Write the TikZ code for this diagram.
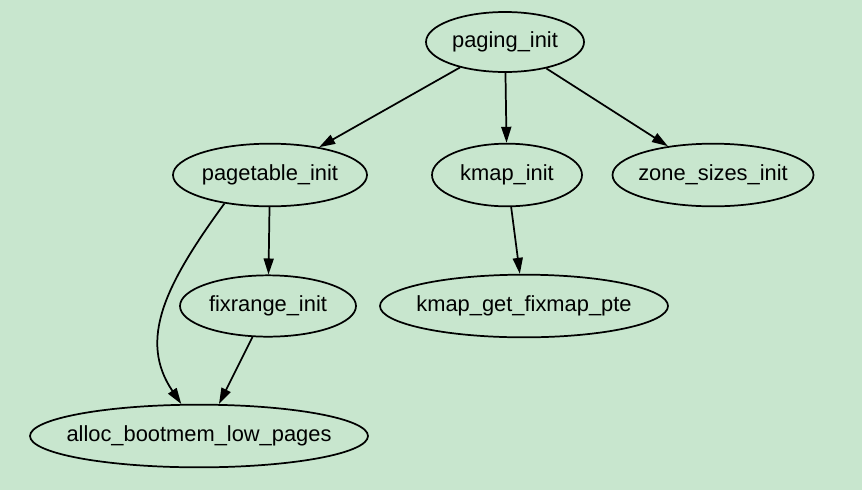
\documentclass[tikz,border=0pt]{standalone}
\usepackage{fontspec}
\setmainfont{Liberation Sans}
\usetikzlibrary{shapes.geometric,arrows.meta}
\definecolor{panelgreen}{RGB}{200,230,206}
\newcommand{\fname}[1]{\makebox[0pt]{#1}}

\begin{document}
\begin{tikzpicture}[x=0.75pt,y=0.75pt,yscale=-1,xscale=1,
  fn/.style={draw, ellipse, line width=1.3pt, inner sep=0pt, minimum height=47pt,
    font=\fontsize{16.4}{19}\selectfont},
  call/.style={-{Triangle[length=12pt,width=7.5pt]}, line width=1.3pt}]
%background, sets the size of the diagram
\path [fill=panelgreen] (0,0) rectangle (862,490);

%Shape: Ellipse [top level]
\node [fn, minimum width=118.5pt, minimum height=45pt] (paging) at (505,42) {\fname{paging\_init}};
%Shape: Ellipse [second level]
\node [fn, minimum width=145.5pt] (pagetable) at (270,175) {\fname{pagetable\_init}};
\node [fn, minimum width=112.5pt] (kmap) at (507,175) {\fname{kmap\_init}};
\node [fn, minimum width=150.75pt] (zone) at (713,175) {\fname{zone\_sizes\_init}};
%Shape: Ellipse [third level]
\node [fn, minimum width=132pt, minimum height=46pt] (fixrange) at (268,306) {\fname{fixrange\_init}};
\node [fn, minimum width=216pt] (kmapget) at (524,306) {\fname{kmap\_get\_fixmap\_pte}};
%Shape: Ellipse [bottom]
\node [fn, minimum width=253.5pt] (alloc) at (199,436) {\fname{alloc\_bootmem\_low\_pages}};

%Calls
\draw [call] (paging) -- (pagetable);
\draw [call] (paging) -- (kmap);
\draw [call] (paging) -- (zone);
\draw [call] (pagetable) -- (fixrange);
\draw [call] (pagetable.212) .. controls (165,285) and (138,340) .. (alloc.119);
\draw [call] (kmap) -- (kmapget);
\draw [call] (fixrange) -- (alloc.58);

\end{tikzpicture}
\end{document}
